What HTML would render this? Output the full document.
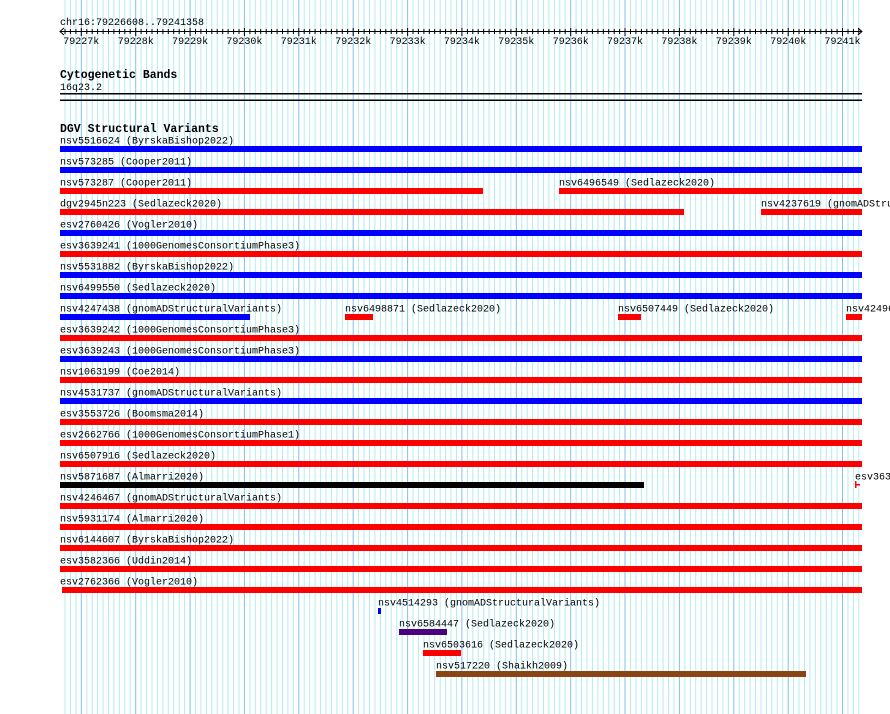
<!DOCTYPE html>
<html><head><meta charset="utf-8"><style>
html,body{margin:0;padding:0;background:#fff;width:890px;height:714px;overflow:hidden}
svg text{font-family:"Liberation Mono","DejaVu Sans Mono",monospace;font-size:10px;fill:#000}
svg text.b{font-weight:bold;font-size:11.5px}
</style></head><body>
<svg id="s" width="890" height="714" xmlns="http://www.w3.org/2000/svg"></svg>
<script>
var s=document.getElementById('s'),h='';
var x0=60,sc=802/14750;
function X(bp){return x0+(bp-79226608)*sc;}
for(var bp=79226700;bp<=79241358;bp+=100){var x=X(bp).toFixed(1);var maj=bp%1000==0;
h+='<line x1="'+x+'" y1="0" x2="'+x+'" y2="714" stroke="'+(maj?'#7fc3e8':'#b3ecf2')+'" stroke-width="1"/>';}
h+='<text x="60" y="25">chr16:79226608..79241358</text>';
h+='<line x1="60" y1="31.5" x2="862" y2="31.5" stroke="#000"/>';
h+='<path d="M64 28 L60 31.5 L64 35 M858 28 L862 31.5 L858 35" stroke="#000" fill="none"/>';
for(var bp=79226700;bp<=79241358;bp+=100){var x=X(bp);var maj=bp%1000==0;
h+='<line x1="'+x.toFixed(1)+'" y1="'+(maj?28:29)+'" x2="'+x.toFixed(1)+'" y2="'+(maj?36:34)+'" stroke="#000"/>';
if(maj)h+='<text x="'+x.toFixed(1)+'" y="44" text-anchor="middle">'+(bp/1000)+'k</text>';}
h+='<text class="b" x="60" y="78">Cytogenetic Bands</text><text x="60" y="90">16q23.2</text>';
h+='<rect x="60" y="93" width="802" height="1.5" fill="#000"/><rect x="60" y="99.5" width="802" height="1.5" fill="#000"/>';
h+='<text class="b" x="60" y="132">DGV Structural Variants</text>';
var B='#0000ff',R='#ff0000';
var rows=[
[[60,'nsv5516624 (ByrskaBishop2022)',60,862,B]],
[[60,'nsv573285 (Cooper2011)',60,862,B]],
[[60,'nsv573287 (Cooper2011)',60,483,R],[559,'nsv6496549 (Sedlazeck2020)',559,862,R]],
[[60,'dgv2945n223 (Sedlazeck2020)',60,684,R],[761,'nsv4237619 (gnomADStructuralVariants)',761,862,R]],
[[60,'esv2760426 (Vogler2010)',60,862,B]],
[[60,'esv3639241 (1000GenomesConsortiumPhase3)',60,862,R]],
[[60,'nsv5531882 (ByrskaBishop2022)',60,862,B]],
[[60,'nsv6499550 (Sedlazeck2020)',60,862,B]],
[[60,'nsv4247438 (gnomADStructuralVariants)',60,250,B],[345,'nsv6498871 (Sedlazeck2020)',345,373,R],[618,'nsv6507449 (Sedlazeck2020)',618,641,R],[846,'nsv4249604',846,862,R]],
[[60,'esv3639242 (1000GenomesConsortiumPhase3)',60,862,R]],
[[60,'esv3639243 (1000GenomesConsortiumPhase3)',60,862,B]],
[[60,'nsv1063199 (Coe2014)',60,862,R]],
[[60,'nsv4531737 (gnomADStructuralVariants)',60,862,B]],
[[60,'esv3553726 (Boomsma2014)',60,862,R]],
[[60,'esv2662766 (1000GenomesConsortiumPhase1)',60,862,R]],
[[60,'nsv6507916 (Sedlazeck2020)',60,862,R]],
[[60,'nsv5871687 (Almarri2020)',60,644,'#000'],[855,'esv3638000',855,862,R]],
[[60,'nsv4246467 (gnomADStructuralVariants)',60,862,R]],
[[60,'nsv5931174 (Almarri2020)',60,862,R]],
[[60,'nsv6144607 (ByrskaBishop2022)',60,862,R]],
[[60,'esv3582366 (Uddin2014)',60,862,R]],
[[60,'esv2762366 (Vogler2010)',62,862,R]],
[[378,'nsv4514293 (gnomADStructuralVariants)',378,381,B]],
[[399,'nsv6584447 (Sedlazeck2020)',399,447,'#4b0082']],
[[423,'nsv6503616 (Sedlazeck2020)',423,461,R]],
[[436,'nsv517220 (Shaikh2009)',436,806,'#8b4513']]
];
rows.forEach(function(r,i){var t=129+21*i;r.forEach(function(f){
h+='<rect x="'+(f[1].length*6+f[0]-2)+'" y="'+(t+2)+'" width="0" height="0" fill="none"/>';
h+='<text x="'+f[0]+'" y="'+(t+14.5)+'">'+f[1]+'</text>';
var hh=6,yy=t+17;
if(f[0]==855){h+='<rect x="855" y="'+(yy-1)+'" width="1.5" height="7" fill="'+R+'"/><rect x="855" y="'+(yy+2)+'" width="5" height="1.5" fill="'+R+'"/>';return;}
h+='<rect x="'+f[2]+'" y="'+yy+'" width="'+(f[3]-f[2])+'" height="'+hh+'" fill="'+f[4]+'"/>';});});
h+='<rect x="60" y="422" width="8" height="1.5" fill="'+R+'"/>';
s.innerHTML=h;
</script>
</body></html>
